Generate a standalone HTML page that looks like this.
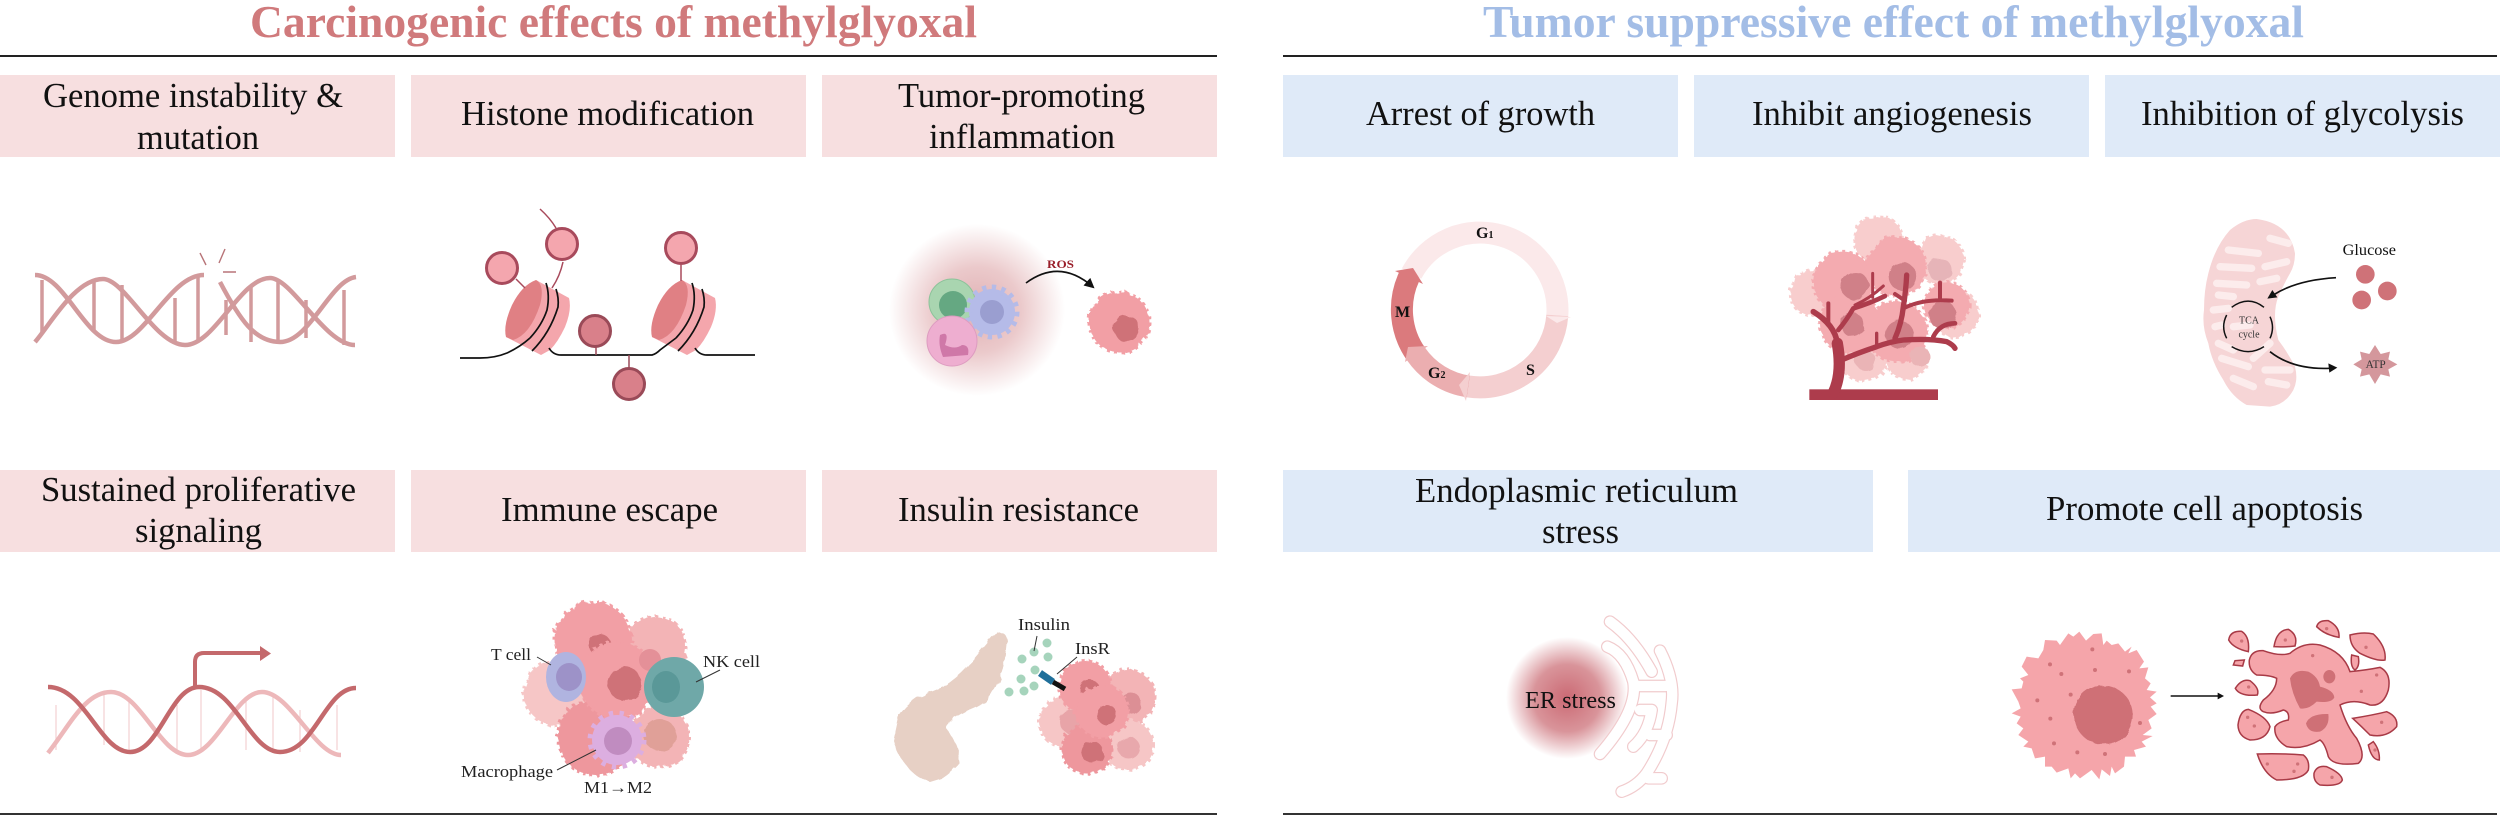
<!DOCTYPE html>
<html lang="en"><head><meta charset="utf-8"><title>Methylglyoxal</title>
<style>
html,body{margin:0;padding:0;background:#fff}
svg{display:block}
text{font-family:"Liberation Serif",serif;fill:#111}
.h{font-size:35px}
.l{font-size:17px;fill:#222}
.c{stroke-dasharray:3 4;stroke-width:4}
.c3{stroke-dasharray:9 11;stroke-width:11}
.a{fill:#f29fa5;stroke:#f29fa5}
.b{fill:#f3b4b6;stroke:#f3b4b6}
.p{fill:#f6c6c6;stroke:#f6c6c6}
.d{fill:#ee979d;stroke:#ee979d}
.m2{fill:#f4abb0;stroke:#f4abb0}
.p2{fill:#f8cdcd;stroke:#f8cdcd}
.n{fill:#cf7278}
.m{fill:#e3a3a8}
.ln{fill:none;stroke:#333;stroke-width:1}
.bk{fill:none;stroke:#111;stroke-width:1.7}
.ap{fill:#f5a5aa;stroke:#a83a46;stroke-width:4.500}
.vs{fill:none;stroke:#ad3c4c;stroke-linecap:round;stroke-linejoin:round}
</style></head><body>
<svg width="2500" height="815" viewBox="0 0 2500 815" xmlns="http://www.w3.org/2000/svg">
<defs>
<filter id="r" x="-10%" y="-10%" width="120%" height="120%"><feTurbulence type="fractalNoise" baseFrequency="0.09" numOctaves="2" seed="4"/><feDisplacementMap in="SourceGraphic" scale="6"/></filter>
<filter id="r3" x="-10%" y="-10%" width="120%" height="120%"><feTurbulence type="fractalNoise" baseFrequency="0.03" numOctaves="2" seed="4"/><feDisplacementMap in="SourceGraphic" scale="16"/></filter>
<radialGradient id="g1"><stop offset="0" stop-color="#d89ca0"/><stop offset=".5" stop-color="#e6bcbe"/><stop offset="1" stop-color="#fff"/></radialGradient>
<radialGradient id="g2"><stop offset="0" stop-color="#cb6a74"/><stop offset=".55" stop-color="#d9949a"/><stop offset="1" stop-color="#fff"/></radialGradient>
<marker id="ah" viewBox="0 0 10 10" refX="8" refY="5" markerWidth="6" markerHeight="6" orient="auto"><path d="M0 0L10 5L0 10Z" fill="#111"/></marker>
<g id="nuc">
<path d="M536 280L569 298Q572 310 565 327Q558 342 550 350L541 355L506 337Q508 300 536 280Z" fill="#f4a6ac"/>
<path d="M536 280Q545 285 540 305Q530 335 513 340L506 337Q503 325 512 305Q522 285 536 280Z" fill="#e08084"/>
<path d="M532 351Q550 333 558 307Q559 298 556 289M546 283Q550 295 547 310Q542 325 530 338" fill="none" stroke="#111" stroke-width="1.700"/>
</g>
</defs>

<!-- titles and rules -->
<text x="250" y="37" font-size="46" font-weight="bold" textLength="727" lengthAdjust="spacingAndGlyphs" style="fill:#d07a7c">Carcinogenic effects of methylglyoxal</text>
<text x="1483" y="37" font-size="46" font-weight="bold" textLength="821" lengthAdjust="spacingAndGlyphs" style="fill:#a3bde6">Tumor suppressive effect of methylglyoxal</text>
<rect x="0" y="55" width="1217" height="2" fill="#222"/>
<rect x="1283" y="55" width="1214" height="2" fill="#222"/>
<rect x="0" y="813" width="1217" height="2" fill="#333"/>
<rect x="1283" y="813" width="1214" height="2" fill="#333"/>

<!-- header boxes -->
<g fill="#f7dfe0">
<rect x="0" y="75" width="395" height="82"/><rect x="411" y="75" width="395" height="82"/><rect x="822" y="75" width="395" height="82"/>
<rect x="0" y="470" width="395" height="82"/><rect x="411" y="470" width="395" height="82"/><rect x="822" y="470" width="395" height="82"/>
</g>
<g fill="#dfeaf8">
<rect x="1283" y="75" width="395" height="82"/><rect x="1694" y="75" width="395" height="82"/><rect x="2105" y="75" width="395" height="82"/>
<rect x="1283" y="470" width="590" height="82"/><rect x="1908" y="470" width="592" height="82"/>
</g>

<!-- header text -->
<g>
<text class="h" x="43" y="107" textLength="300" lengthAdjust="spacingAndGlyphs">Genome instability &amp;</text>
<text class="h" x="137" y="149" textLength="122" lengthAdjust="spacingAndGlyphs">mutation</text>
<text class="h" x="461" y="125" textLength="293" lengthAdjust="spacingAndGlyphs">Histone modification</text>
<text class="h" x="898" y="107" textLength="247" lengthAdjust="spacingAndGlyphs">Tumor-promoting</text>
<text class="h" x="929" y="148" textLength="186" lengthAdjust="spacingAndGlyphs">inflammation</text>
<text class="h" x="1366" y="125" textLength="229" lengthAdjust="spacingAndGlyphs">Arrest of growth</text>
<text class="h" x="1752" y="125" textLength="280" lengthAdjust="spacingAndGlyphs">Inhibit angiogenesis</text>
<text class="h" x="2141" y="125" textLength="323" lengthAdjust="spacingAndGlyphs">Inhibition of glycolysis</text>
<text class="h" x="41" y="501" textLength="315" lengthAdjust="spacingAndGlyphs">Sustained proliferative</text>
<text class="h" x="135" y="542" textLength="127" lengthAdjust="spacingAndGlyphs">signaling</text>
<text class="h" x="501" y="521" textLength="217" lengthAdjust="spacingAndGlyphs">Immune escape</text>
<text class="h" x="898" y="521" textLength="241" lengthAdjust="spacingAndGlyphs">Insulin resistance</text>
<text class="h" x="1415" y="502" textLength="323" lengthAdjust="spacingAndGlyphs">Endoplasmic reticulum</text>
<text class="h" x="1542" y="543" textLength="77" lengthAdjust="spacingAndGlyphs">stress</text>
<text class="h" x="2046" y="520" textLength="317" lengthAdjust="spacingAndGlyphs">Promote cell apoptosis</text>
</g>

<!-- DNA break -->
<g stroke="#d29a9c" fill="none">
<g stroke-width="3.500"><path d="M42 280V333M94 281V332M122 285V342M175 298V343M198 275V342M226 300V335M251 285V342M278 280V342M306 300V338M344 290V345"/></g>
<g stroke-width="4.500">
<path d="M35 275C65 275 85 342 116 342C145 342 170 275 204 275"/>
<path d="M35 342C50 325 75 279 103 279C125 279 155 345 185 345C215 345 240 278 270 278C292 278 325 345 355 345"/>
<path d="M220 282C240 320 255 342 280 342C310 342 330 280 356 277"/>
</g>
<path d="M200 253L206 265M225 249L219 263M223 272H236" stroke-width="1.400" stroke="#b87478"/>
</g>

<!-- Histone -->
<use href="#nuc"/><use href="#nuc" x="146"/>
<path d="M460 358H480Q495 358 507 353Q520 347 530 338M549 348Q553 355 561 355H652Q656 354 660 350L676 338M695 348Q699 355 707 355H755" class="bk"/>
<path d="M563 262Q560 276 552 288M540 209Q550 218 556 228M516 279L525 288M681 265V281" fill="none" stroke="#a84a5c" stroke-width="1.500"/>
<path d="M596 345V355M629 355V368" fill="none" stroke="#9a4a58" stroke-width="1.500"/>
<g fill="#f4a6ae" stroke="#a84a5c" stroke-width="3"><circle cx="562" cy="244" r="15.500"/><circle cx="502" cy="268" r="15.500"/><circle cx="681" cy="248" r="15.500"/></g>
<g fill="#d9808a" stroke="#9a4a58" stroke-width="3"><circle cx="595" cy="331" r="15.500"/><circle cx="629" cy="384" r="15.500"/></g>

<!-- Inflammation -->
<ellipse cx="977" cy="310" rx="88" ry="86" fill="url(#g1)" opacity=".8"/>
<circle cx="952" cy="302" r="23" fill="#a9d5b0" stroke="#8cc39a"/><circle cx="953" cy="305" r="14" fill="#65a882"/>
<circle cx="992" cy="312" r="23" fill="#b5bbe8" stroke="#b5bbe8" stroke-width="9" stroke-dasharray="4 5"/><circle cx="992" cy="312" r="12" fill="#9a9ed0"/>
<circle cx="952" cy="341" r="25" fill="#eeaed0" stroke="#dd9cc0"/><path d="M940 335Q950 330 945 345Q955 350 962 345Q970 345 968 355L943 357Q938 345 940 335Z" fill="#cf78a8"/>
<g filter="url(#r)"><circle class="c a" cx="1119" cy="322" r="30"/><circle class="n" cx="1127" cy="329" r="13"/></g>
<text x="1047" y="268" font-size="12" font-weight="bold" textLength="27" lengthAdjust="spacingAndGlyphs" style="fill:#9a1f2a">ROS</text>
<path d="M1026 283Q1060 258 1093 287" class="bk" marker-end="url(#ah)"/>

<!-- Proliferative -->
<path d="M56 705V750M104 695V745M129 700V750M177 705V750M201 690V752M246 700V750M273 695V752M300 710V752M337 705V750" stroke="#f2d0d1" stroke-width="1.200" fill="none"/>
<path d="M48 753C70 725 85 692 111 692C140 692 160 755 188 755C216 755 235 692 262 692C290 692 315 755 341 755" stroke="#edb8ba" stroke-width="4.500" fill="none"/>
<path d="M48 687C85 687 100 752 130 752C160 752 170 687 199 687C235 687 250 752 280 752C315 752 325 688 356 688" stroke="#c4696c" stroke-width="4.500" fill="none"/>
<path d="M195 687V662Q195 653 204 653H262" stroke="#c4696c" stroke-width="4" fill="none"/>
<path d="M260 646L271 653.500L260 661Z" fill="#c4696c"/>

<!-- Immune -->
<g filter="url(#r)">
<circle class="c b" cx="656" cy="647" r="30"/>
<circle class="c p" cx="556" cy="693" r="32"/>
<circle class="c a" cx="593" cy="640" r="38"/>
<circle cx="600" cy="645" r="11" class="n"/>
<circle class="c b" cx="659" cy="737" r="30"/>
<circle class="c d" cx="596" cy="737" r="38"/>
<circle class="c a" cx="617" cy="680" r="38"/>
<circle class="n" cx="625" cy="684" r="17"/>
<circle cx="660" cy="735" r="16" fill="#e0a098"/>
</g>
<circle cx="650" cy="660" r="11" fill="#e49098"/>
<ellipse cx="566" cy="677" rx="20" ry="25" fill="#b0b4e0"/><ellipse cx="569" cy="677" rx="13" ry="14" fill="#9d92c8"/>
<ellipse cx="674" cy="687" rx="30" ry="30" fill="#6fa8a8"/><ellipse cx="666" cy="687" rx="14" ry="16" fill="#5a9898"/>
<circle cx="617" cy="740" r="25" fill="#dcaee0" stroke="#dcaee0" stroke-width="9" stroke-dasharray="4 6"/><circle cx="618" cy="741" r="14" fill="#c08cc0"/>
<path d="M537 657L551 665M720 670L696 682M557 770L596 750" class="ln"/>
<text class="l" x="491" y="660" textLength="40" lengthAdjust="spacingAndGlyphs">T cell</text>
<text class="l" x="703" y="667" textLength="57" lengthAdjust="spacingAndGlyphs">NK cell</text>
<text class="l" x="461" y="777" textLength="92" lengthAdjust="spacingAndGlyphs">Macrophage</text>
<text class="l" x="584" y="793" textLength="68" lengthAdjust="spacingAndGlyphs">M1→M2</text>

<!-- Insulin -->
<g filter="url(#r)"><path d="M1002 632Q1008 636 1007 645L1005 663Q1000 682 992 695Q985 703 977 707Q965 712 957 717Q948 722 948 730Q955 740 958 750L960 763Q952 772 943 778L930 782Q918 778 910 770L900 757Q895 748 893 740L898 717Q905 706 917 698Q930 692 943 687Q957 678 967 667L990 640Q996 632 1002 632Z" fill="#e7d0c5"/></g>
<g fill="#a6d4bc"><circle cx="1047" cy="643" r="4.500"/><circle cx="1034" cy="652" r="4.500"/><circle cx="1048" cy="657" r="4.500"/><circle cx="1022" cy="659" r="4.500"/><circle cx="1035" cy="670" r="4.500"/><circle cx="1021" cy="679" r="4.500"/><circle cx="1009" cy="692" r="4.500"/><circle cx="1024" cy="691" r="4.500"/><circle cx="1034" cy="686" r="4.500"/></g>
<g filter="url(#r)">
<circle class="c b" cx="1128" cy="697" r="27"/><circle cx="1130" cy="703" r="11" fill="#dc8f95"/>
<circle class="c p" cx="1065" cy="722" r="25"/><circle cx="1072" cy="722" r="12" fill="#e8a4a8"/>
<circle class="c p" cx="1128" cy="745" r="25"/><circle cx="1129" cy="748" r="11" fill="#e8a8ac"/>
<circle class="c a" cx="1085" cy="687" r="26"/><circle cx="1090" cy="690" r="10" class="n"/>
<circle class="c d" cx="1087" cy="749" r="25"/><circle cx="1092" cy="752" r="11" class="n"/>
<circle class="c a" cx="1102" cy="711" r="26"/><circle cx="1107" cy="715" r="10" class="n"/>
</g>
<path d="M1040 673L1053 682" stroke="#1f6f9a" stroke-width="7"/>
<path d="M1053 682L1065 689" stroke="#111" stroke-width="5"/>
<path d="M1037 636L1034 651M1077 657L1057 674" class="ln"/>
<text class="l" x="1018" y="630" textLength="52" lengthAdjust="spacingAndGlyphs">Insulin</text>
<text class="l" x="1075" y="654" textLength="35" lengthAdjust="spacingAndGlyphs">InsR</text>

<!-- Cycle -->
<g fill="none" stroke-width="22">
<path d="M1411.600 273.600A77.500 77.500 0 0 1 1557.300 315.400" stroke="#fbe9ea"/>
<path d="M1557.300 315.400A77.500 77.500 0 0 1 1468.500 386.500" stroke="#f4cfd0"/>
<path d="M1468.500 386.500A77.500 77.500 0 0 1 1416 354" stroke="#ebaeb0"/>
<path d="M1416 354A77.500 77.500 0 0 1 1409 277" stroke="#db7a7d"/>
</g>
<polygon points="1546,316 1571,317 1557,323" fill="#fbe9ea"/>
<polygon points="1470,372 1466,401 1459,385" fill="#f4cfd0"/>
<polygon points="1428,346 1405,362 1408,347" fill="#ebaeb0"/>
<polygon points="1395,271 1413,268 1423,284" fill="#db7a7d"/>
<g font-weight="bold" font-size="16">
<text x="1476" y="238">G<tspan font-size="10" dy="0">1</tspan></text>
<text x="1395" y="317">M</text>
<text x="1526" y="375">S</text>
<text x="1428" y="378">G<tspan font-size="10">2</tspan></text>
</g>

<!-- Angiogenesis -->
<g transform="translate(1780 210) scale(.33333)">
<g filter="url(#r3)">
<circle class="c3 p2" cx="295" cy="90" r="72"/>
<circle class="c3 p2" cx="480" cy="150" r="72"/>
<circle class="c3 p2" cx="100" cy="250" r="68"/>
<circle class="c3 p2" cx="525" cy="310" r="70"/>
<circle class="c3 p2" cx="250" cy="445" r="68"/>
<circle class="c3 p2" cx="380" cy="445" r="62"/>
<circle class="c3 m2" cx="190" cy="215" r="90"/>
<circle class="c3 m2" cx="350" cy="170" r="88"/>
<circle class="c3 m2" cx="500" cy="285" r="68"/>
<circle class="c3 m2" cx="350" cy="365" r="90"/>
<circle class="c3 m2" cx="210" cy="340" r="90"/>
<circle cx="480" cy="180" r="35" fill="#e6b4b8"/>
<circle cx="225" cy="228" r="42" fill="#d08088"/>
<circle cx="368" cy="200" r="42" fill="#d08088"/>
<circle cx="488" cy="315" r="42" fill="#d08088"/>
<circle cx="360" cy="375" r="42" fill="#d08088"/>
<circle cx="218" cy="345" r="35" fill="#d08088"/>
<circle cx="255" cy="450" r="30" fill="#eab4b6"/>
<circle cx="420" cy="440" r="30" fill="#eab4b6"/>
</g>
<rect x="88" y="538" width="386" height="32" fill="#ad3c4c"/>
<g class="vs">
<path d="M160 548Q188 490 172 400" stroke-width="34"/>
<path d="M172 400Q165 345 100 305" stroke-width="17"/>
<path d="M145 280V345" stroke-width="12"/>
<path d="M185 450Q230 430 290 410Q330 395 370 390Q450 385 500 395Q520 405 525 415" stroke-width="16"/>
<path d="M290 405V370" stroke-width="10"/>
<path d="M175 360Q200 330 220 295Q270 280 315 258" stroke-width="14"/>
<path d="M225 285Q270 265 310 228M278 262V190" stroke-width="9"/>
<path d="M345 385Q365 340 370 290Q378 240 380 195" stroke-width="16"/>
<path d="M370 295Q430 265 515 272M345 252L375 272M480 265V218" stroke-width="12"/>
<path d="M460 380Q480 340 525 340" stroke-width="14"/>
</g>
</g>

<!-- Mitochondria -->
<g transform="translate(2190 210) scale(.33333)">
<path d="M200 27Q300 40 315 130Q315 165 300 190Q280 225 265 260Q245 310 265 390Q295 430 315 470Q325 510 310 540Q285 585 240 590L170 585Q125 560 100 510Q65 455 55 400Q35 350 42 300Q42 240 55 190Q75 110 120 60Q160 27 200 27Z" fill="#f6d5d6"/>
<path d="M240 85L295 100M115 120L205 130M225 170L290 155M90 170L185 175M80 220L170 225M210 215L260 205M85 255L130 260M70 300L115 295M75 350L95 345M130 350L180 345M85 400L130 420M95 445L175 470M225 480L300 480M130 505L190 530M235 515L290 525M190 445L240 400" stroke="#fcecec" stroke-width="22" stroke-linecap="round" fill="none"/>
<path d="M125 292Q175 255 222 292M240 320Q255 352 240 385M222 410Q175 440 125 410M110 385Q92 350 110 315" fill="none" stroke="#111" stroke-width="4.500"/>
<text x="177" y="340" font-size="30" text-anchor="middle" style="fill:#333">TCA</text>
<text x="177" y="383" font-size="30" text-anchor="middle" style="fill:#333">cycle</text>
<text x="458" y="135" font-size="48" textLength="160" lengthAdjust="spacingAndGlyphs">Glucose</text>
<g fill="#cf7278"><circle cx="526" cy="193" r="28"/><circle cx="592" cy="243" r="28"/><circle cx="515" cy="270" r="28"/></g>
<path d="M438 203Q320 210 250 255M240 425Q310 480 420 475" fill="none" stroke="#111" stroke-width="5"/>
<polygon points="232,266 262,262 247,240" fill="#111"/>
<polygon points="442,473 415,460 418,488" fill="#111"/>
<polygon points="555,405 572,432 600,425 595,448 622,463 595,478 600,500 572,493 555,522 538,493 510,500 515,478 490,463 515,448 510,425 538,432" fill="#d4979c"/>
<text x="557" y="474" font-size="34" text-anchor="middle" style="fill:#333">ATP</text>
</g>

<!-- ER -->
<circle cx="1567" cy="698" r="61" fill="url(#g2)"/>
<g transform="translate(1500 610) scale(.33333)" fill="none" stroke-linecap="round">
<g stroke="#f1cbcd" stroke-width="38"><path d="M330 35Q400 85 455 185M480 122Q525 210 515 280Q505 390 440 490Q410 530 365 545M322 110Q375 130 400 215Q415 300 300 432M410 228H495M455 300Q445 370 400 410M420 300H455M450 375H500M445 505H485"/></g>
<g stroke="#fff" stroke-width="31"><path d="M330 35Q400 85 455 185M480 122Q525 210 515 280Q505 390 440 490Q410 530 365 545M322 110Q375 130 400 215Q415 300 300 432M410 228H495M455 300Q445 370 400 410M420 300H455M450 375H500M445 505H485"/></g>
</g>
<text x="1525" y="708" font-size="24" textLength="91" lengthAdjust="spacingAndGlyphs">ER stress</text>

<!-- Apoptosis -->
<g transform="translate(2000 610) scale(.33333)">
<polygon fill="#f5a5aa" points="135,90 170,92 180,105 205,70 220,80 238,65 258,92 280,72 305,70 310,105 320,92 335,105 355,100 375,125 395,110 385,130 410,120 432,155 418,175 445,172 435,205 452,220 440,240 470,245 450,262 470,280 452,290 470,312 445,330 455,355 428,375 458,378 425,395 438,410 402,420 408,440 375,440 372,470 345,490 335,470 330,498 305,478 298,508 275,480 240,505 225,490 212,505 205,475 170,488 155,470 135,470 135,440 105,445 95,415 70,410 85,395 55,375 70,355 50,340 62,320 35,310 62,295 55,275 35,238 65,235 70,215 60,205 85,195 65,170 80,140 115,145 130,120"/>
<g filter="url(#r3)"><circle cx="310" cy="315" r="88" fill="#cf7076"/></g>
<g fill="#cf7278"><circle cx="277" cy="118" r="6"/><circle cx="150" cy="163" r="6"/><circle cx="184" cy="192" r="6"/><circle cx="285" cy="180" r="6"/><circle cx="387" cy="184" r="6"/><circle cx="212" cy="254" r="6"/><circle cx="112" cy="271" r="6"/><circle cx="151" cy="326" r="6"/><circle cx="420" cy="339" r="6"/><circle cx="162" cy="400" r="6"/><circle cx="232" cy="427" r="6"/><circle cx="315" cy="432" r="6"/></g>
<path d="M512 258H655" stroke="#111" stroke-width="4.500"/>
<polygon points="672,258 653,248 653,268" fill="#111"/>
<path class="ap" d="M748 150Q755 120 790 122Q840 140 870 130Q910 95 960 105Q1030 125 1050 185Q1100 180 1140 172Q1175 190 1165 240Q1150 290 1110 285Q1060 265 1020 285Q1040 350 1070 385Q1100 440 1075 460Q1000 470 985 440Q975 400 960 390Q910 420 860 410Q820 385 825 350Q835 335 865 330Q870 305 850 300Q815 315 790 305Q770 295 790 270Q830 240 830 205Q810 195 770 195Q745 180 748 150Z"/>
<g fill="#cf7076"><path d="M870 205Q885 175 925 185Q955 200 960 230Q1000 240 1003 262Q995 280 950 275Q925 300 900 295Q875 250 870 205Z"/><ellipse cx="988" cy="200" rx="18" ry="20"/><path d="M918 340Q930 310 985 312Q990 350 960 365Q925 370 918 340Z"/></g>
<path class="ap" d="M686 90Q690 62 725 64Q750 80 745 125Q700 115 686 90Z"/>
<path class="ap" d="M822 110Q830 60 865 58Q895 75 885 108Q850 112 822 110Z"/>
<path class="ap" d="M950 50Q955 30 985 32Q1020 50 1017 82Q975 75 950 50Z"/>
<path class="ap" d="M1050 75Q1090 65 1120 72Q1160 110 1155 150Q1130 155 1080 130Q1050 110 1050 75Z"/>
<path class="ap" d="M700 165L705 152L733 150L728 168Z"/>
<path class="ap" d="M706 235Q725 205 750 212Q780 235 772 255Q720 260 706 235Z"/>
<path class="ap" d="M1055 135L1075 140Q1080 170 1065 180Q1050 170 1055 135Z"/>
<path class="ap" d="M714 345Q720 300 745 298Q800 320 810 350Q800 390 750 390Q715 380 714 345Z"/>
<path class="ap" d="M1058 325Q1120 315 1160 305Q1195 320 1190 350Q1160 385 1110 375Q1085 350 1058 325Z"/>
<path class="ap" d="M1105 405L1120 395Q1140 420 1138 450Q1115 450 1105 405Z"/>
<path class="ap" d="M772 432Q850 430 910 435Q930 450 925 480Q910 510 830 510Q790 490 772 432Z"/>
<path class="ap" d="M942 490Q950 465 980 470Q1025 490 1027 510Q1020 530 960 525Q940 515 942 490Z"/>
<g fill="#cf7278"><circle cx="725" cy="93" r="5"/><circle cx="856" cy="90" r="5"/><circle cx="980" cy="56" r="5"/><circle cx="1098" cy="112" r="5"/><circle cx="746" cy="231" r="5"/><circle cx="743" cy="322" r="5"/><circle cx="763" cy="348" r="5"/><circle cx="1145" cy="337" r="5"/><circle cx="1125" cy="420" r="5"/><circle cx="802" cy="462" r="5"/><circle cx="893" cy="462" r="5"/><circle cx="882" cy="484" r="5"/><circle cx="996" cy="502" r="5"/><circle cx="938" cy="137" r="5"/><circle cx="1084" cy="244" r="5"/><circle cx="1130" cy="195" r="5"/></g>
</g>
</svg>
</body></html>
